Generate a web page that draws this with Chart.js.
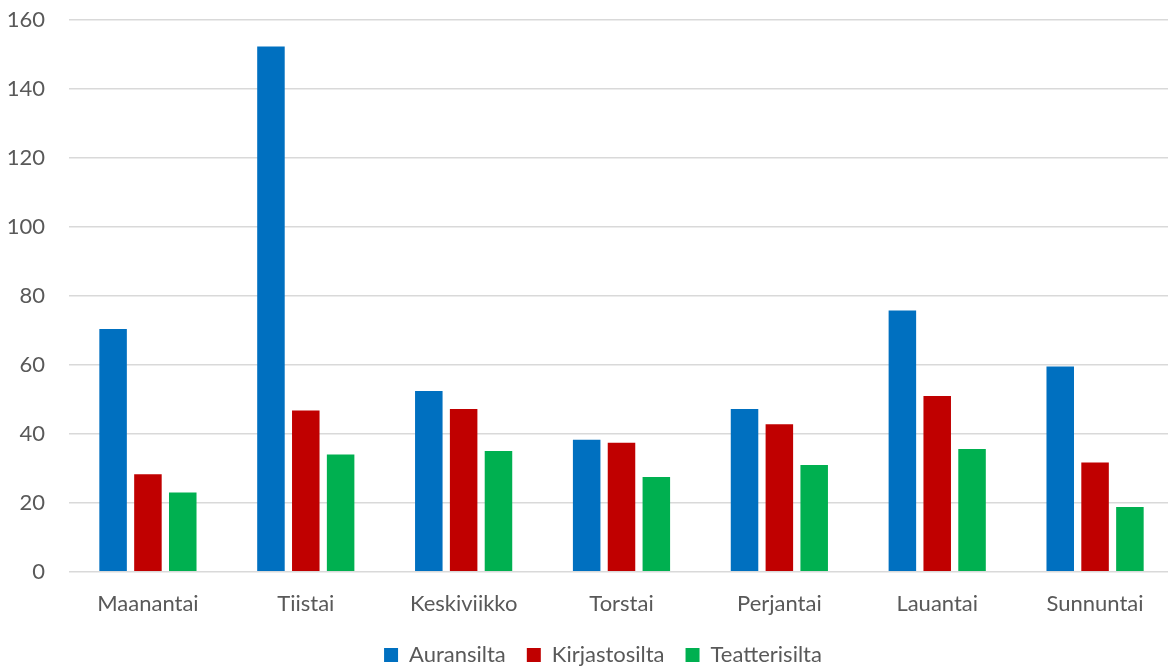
<!DOCTYPE html>
<html>
<head>
<meta charset="utf-8">
<script src="https://cdn.jsdelivr.net/npm/chart.js@4"></script>
<style>
html,body{margin:0;padding:0;background:#fff;overflow:hidden;}
#wrap{width:1168px;height:668px;position:relative;overflow:hidden;}
</style>
</head>
<body>
<div id="wrap"><canvas id="c" width="1174" height="668"></canvas></div>
<script>
const categories = ["Maanantai","Tiistai","Keskiviikko","Torstai","Perjantai","Lauantai","Sunnuntai"];
const seriesNames = ["Auransilta","Kirjastosilta","Teatterisilta"];
const auransilta = [70.4, 152.3, 52.4, 38.3, 47.2, 75.8, 59.5];
const kirjastosilta = [28.3, 46.8, 47.2, 37.4, 42.8, 51.0, 31.7];
const teatterisilta = [23.0, 34.0, 35.0, 27.5, 31.0, 35.6, 18.8];
const yTicks = [0, 20, 40, 60, 80, 100, 120, 140, 160];
const colors = ["#0070C0", "#C00000", "#00B050"];

const font = {family: "Lato, 'Open Sans', sans-serif", size: 22};
const textColor = "#595959";

const legendShift = {
  id: "legendShift",
  afterLayout(chart) {
    const l = chart.legend;
    if (l) { l.left += 16; l.right += 16; }
  }
};

new Chart(document.getElementById("c"), {
  type: "bar",
  data: {
    labels: categories,
    datasets: [auransilta, kirjastosilta, teatterisilta].map((d, i) => ({
      label: seriesNames[i],
      data: d,
      backgroundColor: colors[i],
      borderWidth: 0,
      categoryPercentage: 0.662,
      barPercentage: 0.79
    }))
  },
  plugins: [legendShift],
  options: {
    responsive: false,
    animation: false,
    layout: {padding: {top: 20, right: 0, left: 0, bottom: -8}},
    plugins: {
      tooltip: {enabled: false},
      legend: {
        position: "bottom",
        labels: {
          font: font,
          color: textColor,
          boxWidth: 14,
          boxHeight: 14,
          padding: 21
        }
      }
    },
    scales: {
      x: {
        grid: {display: false},
        border: {display: false},
        ticks: {font: font, color: textColor, padding: 11},
        afterFit: (axis) => { axis.height = 51.2; }
      },
      y: {
        min: yTicks[0],
        max: yTicks[yTicks.length - 1],
        afterBuildTicks: (axis) => { axis.ticks = yTicks.map(v => ({value: v})); },
        afterFit: (axis) => { axis.width = 69; axis.paddingTop = 0; axis.paddingBottom = 0; },
        grid: {color: "#d9d9d9", lineWidth: 1.5, drawTicks: false},
        border: {display: false},
        ticks: {font: font, color: textColor, padding: 24}
      }
    }
  }
});
</script>
</body>
</html>
